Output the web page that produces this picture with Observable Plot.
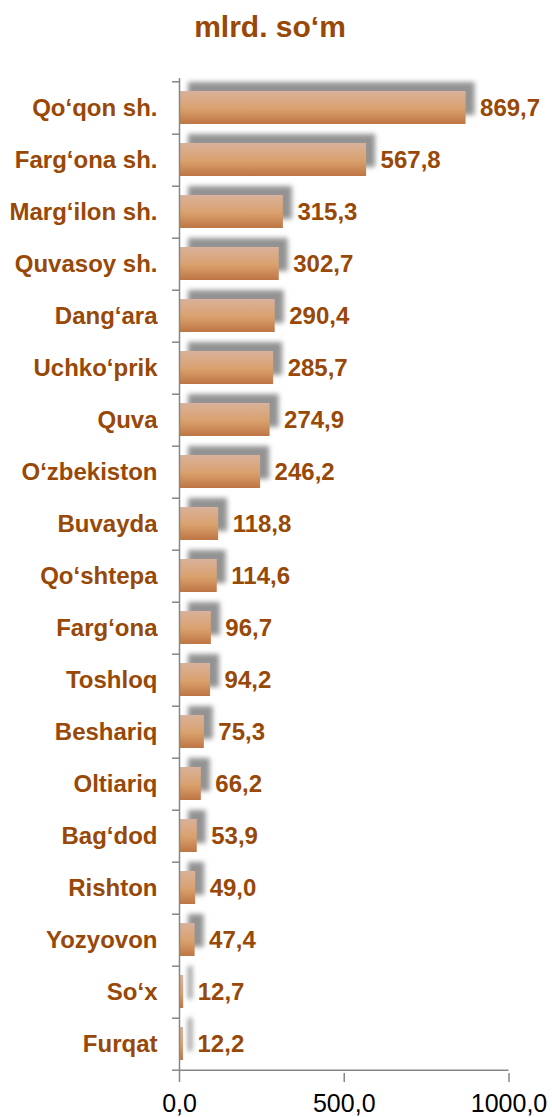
<!DOCTYPE html>
<html>
<head>
<meta charset="utf-8">
<script src="https://cdn.jsdelivr.net/npm/d3@7"></script>
<script src="https://cdn.jsdelivr.net/npm/@observablehq/plot@0.6"></script>
<style>
  html, body { margin: 0; padding: 0; background: #fff; }
  body { width: 552px; height: 1117px; overflow: hidden; font-family: "Liberation Sans", Arial, sans-serif; }
  #title { height: 48px; padding-top: 12px; line-height: 30px; font-size: 30px; font-weight: bold; color: #984807; text-align: center; padding-right: 12px; }
  svg { display: block; }
</style>
</head>
<body>
<div id="title">mlrd. so‘m</div>
<div id="chart"></div>
<script>
const categories = ["Qo‘qon sh.", "Farg‘ona sh.", "Marg‘ilon sh.", "Quvasoy sh.", "Dang‘ara", "Uchko‘prik", "Quva", "O‘zbekiston", "Buvayda", "Qo‘shtepa", "Farg‘ona", "Toshloq", "Beshariq", "Oltiariq", "Bag‘dod", "Rishton", "Yozyovon", "So‘x", "Furqat"];
const values = [869.7, 567.8, 315.3, 302.7, 290.4, 285.7, 274.9, 246.2, 118.8, 114.6, 96.7, 94.2, 75.3, 66.2, 53.9, 49.0, 47.4, 12.7, 12.2];
const xTicks = [0, 500, 1000];

const data = categories.map((c, i) => ({name: c, value: values[i]}));
const fmt = v => d3.format(".1f")(v).replace(".", ",");

const W = 552, H = 1057, mt = 18, mb = 44, ml = 179, mr = 43.5;
const step = (H - mt - mb) / categories.length;
const brown = "#984807";
const axisGray = "#868686";
const tickLen = 7 * 1000 / (W - ml - mr);

const plot = Plot.plot({
  width: W, height: H,
  marginTop: mt, marginBottom: mb, marginLeft: ml, marginRight: mr,
  style: {fontFamily: "Liberation Sans, Arial, sans-serif", color: "black", background: "white"},
  x: {domain: [0, 1000], axis: null},
  y: {domain: categories, paddingInner: 0.356, paddingOuter: 0.178, axis: null},
  marks: [
    Plot.barX(data, {y: "name", x: "value", fill: "#939393", dx: 9, dy: -9}),
    Plot.barX(data, {y: "name", x: "value", fill: "url(#barGrad)"}),
    Plot.ruleX([0], {stroke: axisGray, strokeWidth: 1.5}),
    Plot.ruleY(categories, {y: d => d, dy: step / 2, x1: -tickLen, x2: 0, stroke: axisGray, strokeWidth: 1.5}),
    Plot.ruleY([categories[0]], {y: d => d, dy: -step / 2, x1: -tickLen, x2: 0, stroke: axisGray, strokeWidth: 1.5}),
    Plot.ruleY([categories[categories.length - 1]], {y: d => d, dy: step / 2, x1: 0, x2: 1000, stroke: axisGray, strokeWidth: 1.5}),
    Plot.axisX({ticks: xTicks, tickFormat: () => "", label: null, tickSize: 9, stroke: axisGray, strokeWidth: 1.5}),
    Plot.text(xTicks, {x: d => d, frameAnchor: "bottom", text: d => fmt(d), dy: 38, fontSize: 25, fill: "black"}),
    Plot.text(data, {y: "name", x: 0, text: "name", dx: -22, textAnchor: "end", fontSize: 24, fontWeight: "bold", fill: brown}),
    Plot.text(data, {y: "name", x: "value", text: d => fmt(d.value), dx: 14, textAnchor: "start", fontSize: 24, fontWeight: "bold", fill: brown})
  ]
});

const svg = d3.select(plot);
const defs = svg.insert("defs", ":first-child");
const grad = defs.append("linearGradient").attr("id", "barGrad").attr("x1", 0).attr("y1", 0).attr("x2", 0).attr("y2", 1);
grad.append("stop").attr("offset", "0%").attr("stop-color", "#d9b29b");
grad.append("stop").attr("offset", "55%").attr("stop-color", "#d9a06c");
grad.append("stop").attr("offset", "100%").attr("stop-color", "#be7544");
const f = defs.append("filter").attr("id", "blurShadow").attr("x", "-50%").attr("y", "-50%").attr("width", "200%").attr("height", "200%");
f.append("feGaussianBlur").attr("stdDeviation", 2.8);
svg.select('g[aria-label="bar"]').attr("filter", "url(#blurShadow)");

document.getElementById("chart").appendChild(plot);
</script>
</body>
</html>
